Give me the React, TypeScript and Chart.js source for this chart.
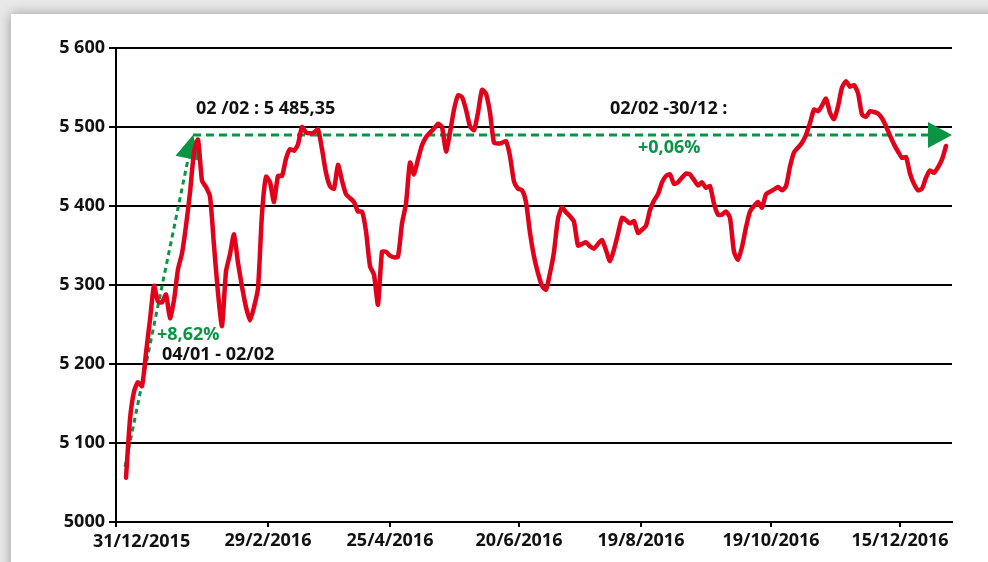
import React, { useEffect, useRef } from "react";
import { Chart, registerables } from "chart.js";

Chart.register(...registerables);

// X tick labels and their positions on the trading-day index axis
const xTickLabels = ["31/12/2015", "29/2/2016", "25/4/2016", "20/6/2016", "19/8/2016", "19/10/2016", "15/12/2016"];
const xTickPositions = [-2.5, 35.5, 66, 98.25, 128.75, 161.25, 193.5];

// Y ticks
const yTickValues = [5000, 5100, 5200, 5300, 5400, 5500, 5600];
const yTickLabels = ["5000", "5 100", "5 200", "5 300", "5 400", "5 500", "5 600"];

// Index series values
const indexValues = [
  5056, 5130, 5165, 5177, 5172, 5214, 5256, 5299, 5279, 5278,
  5288, 5258, 5281, 5320, 5340, 5375, 5417, 5468, 5484, 5432,
  5424, 5412, 5350, 5290, 5248, 5317, 5339, 5364, 5328, 5298,
  5272, 5255, 5272, 5296, 5390, 5437, 5430, 5405, 5438, 5438,
  5460, 5472, 5470, 5478, 5500, 5493, 5492, 5493, 5497, 5472,
  5442, 5425, 5422, 5452, 5432, 5415, 5410, 5405, 5393, 5393,
  5368, 5324, 5313, 5275, 5342, 5342, 5337, 5335, 5336, 5378,
  5403, 5455, 5440, 5459, 5477, 5487, 5493, 5498, 5504, 5500,
  5469, 5493, 5522, 5540, 5538, 5522, 5501, 5496, 5518, 5547,
  5542, 5518, 5480, 5479, 5480, 5482, 5463, 5431, 5422, 5420,
  5405, 5366, 5336, 5315, 5299, 5294, 5315, 5342, 5384, 5398,
  5392, 5387, 5380, 5350, 5352, 5354, 5349, 5346, 5352, 5357,
  5344, 5330, 5345, 5365, 5385, 5382, 5378, 5381, 5366, 5370,
  5375, 5395, 5407, 5415, 5430, 5438, 5440, 5428, 5430, 5436,
  5441, 5440, 5433, 5426, 5430, 5423, 5425, 5403, 5389, 5389,
  5393, 5385, 5342, 5332, 5348, 5373, 5393, 5400, 5405, 5398,
  5415, 5418, 5421, 5424, 5420, 5425, 5450, 5468, 5474, 5480,
  5490, 5505, 5522, 5520, 5527, 5536, 5518, 5510, 5526, 5550,
  5558, 5551, 5553, 5543, 5516, 5513, 5520, 5519, 5517, 5511,
  5501, 5489, 5478, 5469, 5461, 5462, 5441, 5428, 5420, 5422,
  5436, 5445, 5442, 5449, 5459, 5476,
];

// Green trend arrows: [x, y] in data units
const riseArrowFrom = [-0.25, 5070];
const riseArrowTo = [16.75, 5490];
const flatArrowFrom = [16.75, 5490];
const flatArrowTo = [206.5, 5490];

// Annotation texts
const noteTexts = ["02 /02 : 5 485,35", "02/02 -30/12 :", "+0,06%", "+8,62%", "04/01 - 02/02"];
const noteX = [17.5, 121, 128, 7.75, 9];
const noteY = [5523, 5523, 5474, 5237, 5212];
const noteGreen = [false, false, true, true, false];

const RED = "#e2001a";
const GREEN = "#0a9544";
const FONT = "'Open Sans'";
const TEXT = "#111111";
const FSIZE = 18;

export default function App() {
  const ref = useRef<HTMLCanvasElement | null>(null);

  useEffect(() => {
    if (!ref.current) return;

    const arrowPlugin = {
      id: "arrows",
      beforeDatasetsDraw(chart: any) {
        const { ctx, scales } = chart;
        const xs = scales.x;
        const ys = scales.y;
        const px = (p: number[]) => [xs.getPixelForValue(p[0]), ys.getPixelForValue(p[1])];
        const drawArrow = (from: number[], to: number[], dash: number[], stopBefore: number) => {
          const [x1, y1] = px(from);
          const [x2, y2] = px(to);
          const dx = x2 - x1;
          const dy = y2 - y1;
          const len = Math.sqrt(dx * dx + dy * dy);
          const ux = dx / len;
          const uy = dy / len;
          ctx.save();
          ctx.strokeStyle = GREEN;
          ctx.lineWidth = 3;
          ctx.setLineDash(dash);
          ctx.beginPath();
          ctx.moveTo(x1, y1);
          ctx.lineTo(x2 - ux * stopBefore, y2 - uy * stopBefore);
          ctx.stroke();
          ctx.restore();
        };
        const drawHead = (from: number[], to: number[]) => {
          const [x1, y1] = px(from);
          const [x2, y2] = px(to);
          const dx = x2 - x1;
          const dy = y2 - y1;
          const len = Math.sqrt(dx * dx + dy * dy);
          const ux = dx / len;
          const uy = dy / len;
          const L = 24;
          const W = 13;
          const bx = x2 - ux * L;
          const by = y2 - uy * L;
          ctx.save();
          ctx.fillStyle = GREEN;
          ctx.beginPath();
          ctx.moveTo(x2, y2);
          ctx.lineTo(bx - uy * W, by + ux * W);
          ctx.lineTo(bx + uy * W, by - ux * W);
          ctx.closePath();
          ctx.fill();
          ctx.restore();
        };
        drawArrow(riseArrowFrom, riseArrowTo, [5, 4], 18);
        drawArrow(flatArrowFrom, flatArrowTo, [8, 5], 22);
        drawHead(riseArrowFrom, riseArrowTo);
        drawHead(flatArrowFrom, flatArrowTo);
      },
      afterDatasetsDraw(chart: any) {
        const { ctx, scales } = chart;
        ctx.save();
        ctx.font = `bold ${FSIZE}px ${FONT}`;
        ctx.textAlign = "left";
        ctx.textBaseline = "middle";
        noteTexts.forEach((t, i) => {
          ctx.fillStyle = noteGreen[i] ? GREEN : TEXT;
          ctx.fillText(t, scales.x.getPixelForValue(noteX[i]), scales.y.getPixelForValue(noteY[i]));
        });
        ctx.restore();
      },
      afterDraw(chart: any) {
        // first date label sits to the right of its tick (kept inside the card)
        const { ctx, scales } = chart;
        const x0 = scales.x.getPixelForValue(xTickPositions[0]);
        ctx.save();
        ctx.font = `bold ${FSIZE}px ${FONT}`;
        ctx.fillStyle = TEXT;
        ctx.textAlign = "left";
        ctx.textBaseline = "middle";
        ctx.fillText(xTickLabels[0], x0 - 23, scales.y.bottom + 20);
        ctx.restore();
      },
    };

    const chart = new Chart(ref.current, {
      type: "line",
      data: {
        datasets: [
          {
            data: indexValues.map((v, i) => ({ x: i, y: v })),
            borderColor: RED,
            borderWidth: 4.5,
            pointRadius: 0,
            tension: 0.2,
            borderJoinStyle: "round",
            borderCapStyle: "round",
            fill: false,
          },
        ],
      },
      options: {
        animation: false,
        responsive: false,
        devicePixelRatio: 1,
        layout: { padding: { top: 48, right: 36, left: 0, bottom: 0 } },
        plugins: { legend: { display: false }, tooltip: { enabled: false } },
        scales: {
          x: {
            type: "linear",
            min: -2.5,
            max: 206.5,
            afterBuildTicks: (scale: any) => {
              scale.ticks = xTickPositions.map((v) => ({ value: v }));
            },
            afterFit: (scale: any) => {
              scale.height = 40;
            },
            ticks: {
              autoSkip: false,
              maxRotation: 0,
              padding: 3,
              color: TEXT,
              font: { family: "Open Sans", weight: "bold", size: FSIZE },
              callback: (_v: any, idx: number) => (idx === 0 ? "" : xTickLabels[idx]),
            },
            grid: {
              drawOnChartArea: false,
              drawTicks: true,
              tickLength: 5,
              color: "#000000",
              lineWidth: 2,
            },
            border: { color: "#000000", width: 2 },
          },
          y: {
            type: "linear",
            min: 5000,
            max: 5600,
            afterBuildTicks: (scale: any) => {
              scale.ticks = yTickValues.map((v) => ({ value: v }));
            },
            afterFit: (scale: any) => {
              scale.width = 116;
            },
            ticks: {
              padding: 4,
              color: TEXT,
              font: { family: "Open Sans", weight: "bold", size: FSIZE },
              callback: (_v: any, idx: number) => yTickLabels[idx],
            },
            grid: {
              drawTicks: true,
              tickLength: 7,
              color: "#000000",
              lineWidth: 2,
            },
            border: { color: "#000000", width: 2 },
          },
        },
      },
      plugins: [arrowPlugin],
    } as any);

    return () => chart.destroy();
  }, []);

  return (
    <div style={{ position: "fixed", left: 0, top: 0, width: 988, height: 562, background: "#e9e9e9", overflow: "hidden" }}>
      <div
        style={{
          position: "absolute",
          left: 11,
          top: 14,
          width: 1000,
          height: 600,
          background: "#ffffff",
          boxShadow: "0 0 12px rgba(0,0,0,0.35)",
        }}
      />
      <canvas ref={ref} width={988} height={562} style={{ position: "absolute", left: 0, top: 0 }} />
    </div>
  );
}
